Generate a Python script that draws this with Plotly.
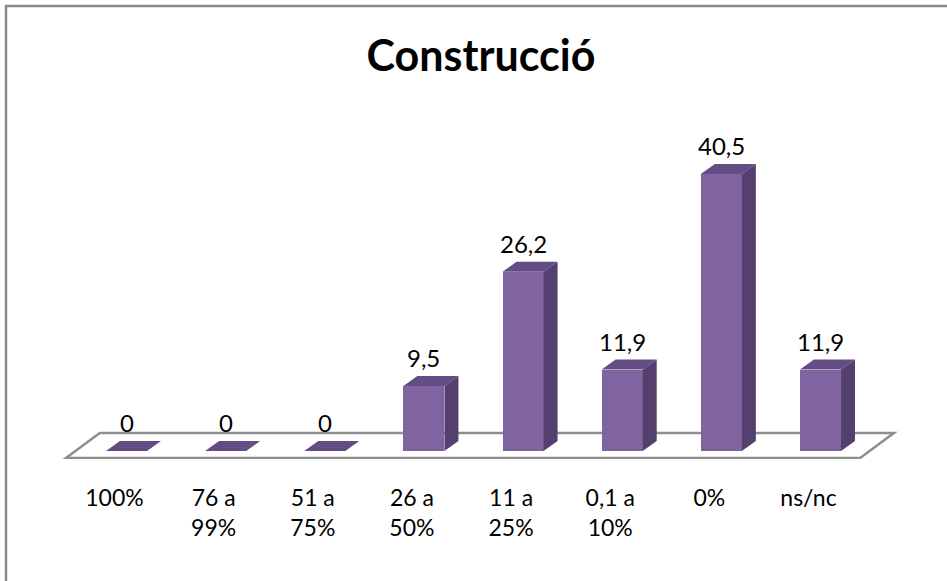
import plotly.graph_objects as go

categories = ["100%", "76 a<br>99%", "51 a<br>75%", "26 a<br>50%", "11 a<br>25%", "0,1 a<br>10%", "0%", "ns/nc"]
values = [0, 0, 0, 9.5, 26.2, 11.9, 40.5, 11.9]
title_text = "Construcció"

FRONT = "#8064A2"
SIDE = "#54406E"
TOP = "#644C84"
FLOOR_LINE = "#8E8E8E"
FONT = "Lato"

n = len(categories)
xs = list(range(n))
w = 0.414          # bar width in category units
dx, dy = 0.141, 1.46  # 3D depth offset (x units, y units)

fig = go.Figure()

# floor slab (drawn below the bars)
fx0, fx1 = -0.61, (n - 1) + 0.40
fy0, fdx, fdy = -1.02, 0.34, 3.65
floor_path = (f"M {fx0},{fy0} L {fx1},{fy0} L {fx1 + fdx},{fy0 + fdy} "
              f"L {fx0 + fdx},{fy0 + fdy} Z")
fig.add_shape(type="path", xref="x", yref="y", path=floor_path, layer="below",
              fillcolor="white", line=dict(color=FLOOR_LINE, width=2.5))

# front faces
fig.add_trace(go.Bar(x=xs, y=values, width=w, marker=dict(color=FRONT, line=dict(width=0)),
                     hoverinfo="skip", showlegend=False))

# side faces
sx, sy = [], []
for i, v in zip(xs, values):
    if v > 0:
        r = i + w / 2
        sx += [r, r + dx, r + dx, r, r, None]
        sy += [0, dy, v + dy, v, 0, None]
fig.add_trace(go.Scatter(x=sx, y=sy, mode="lines", fill="toself", fillcolor=SIDE,
                         line=dict(width=0, color=SIDE), hoverinfo="skip", showlegend=False))

# top faces
tx, ty = [], []
for i, v in zip(xs, values):
    l, r = i - w / 2, i + w / 2
    tx += [l, r, r + dx, l + dx, l, None]
    ty += [v, v, v + dy, v + dy, v, None]
fig.add_trace(go.Scatter(x=tx, y=ty, mode="lines", fill="toself", fillcolor=TOP,
                         line=dict(width=0, color=TOP), hoverinfo="skip", showlegend=False))

# data labels
for i, v in zip(xs, values):
    txt = "0" if v == 0 else f"{v:.1f}".replace(".", ",")
    fig.add_annotation(x=i, y=v + dy, text=txt, showarrow=False, yanchor="bottom",
                       xanchor="center", yshift=2, font=dict(family=FONT, size=24, color="black"))

H = 581
plot_bottom_px = 459
fig.add_shape(type="rect", xref="paper", yref="paper",
              x0=6 / 947, x1=1.05, y0=-0.35, y1=(plot_bottom_px - 6) / plot_bottom_px,
              line=dict(color="#8A8A8A", width=2.5), fillcolor="rgba(0,0,0,0)", layer="above")

fig.update_layout(
    width=947, height=581,
    margin=dict(l=0, r=0, t=0, b=H - plot_bottom_px),
    paper_bgcolor="white", plot_bgcolor="white",
    title=dict(text="<b>" + title_text + "</b>", x=481 / 947, xanchor="center",
               y=1 - 56 / H, yanchor="middle", yref="container",
               font=dict(family=FONT, size=43, color="black")),
    xaxis=dict(range=[-1.276, 8.276], tickvals=xs, ticktext=categories,
               showgrid=False, zeroline=False, showline=False, ticks="",
               ticklabelshift=-12, ticklabelstandoff=23,
               tickfont=dict(family=FONT, size=23, color="black"), fixedrange=True),
    yaxis=dict(range=[-1.17, 65.94], visible=False, fixedrange=True),
    bargap=0,
)

fig.write_html("out.html", config={"displayModeBar": False},
               post_script="document.body.style.margin='0';")
